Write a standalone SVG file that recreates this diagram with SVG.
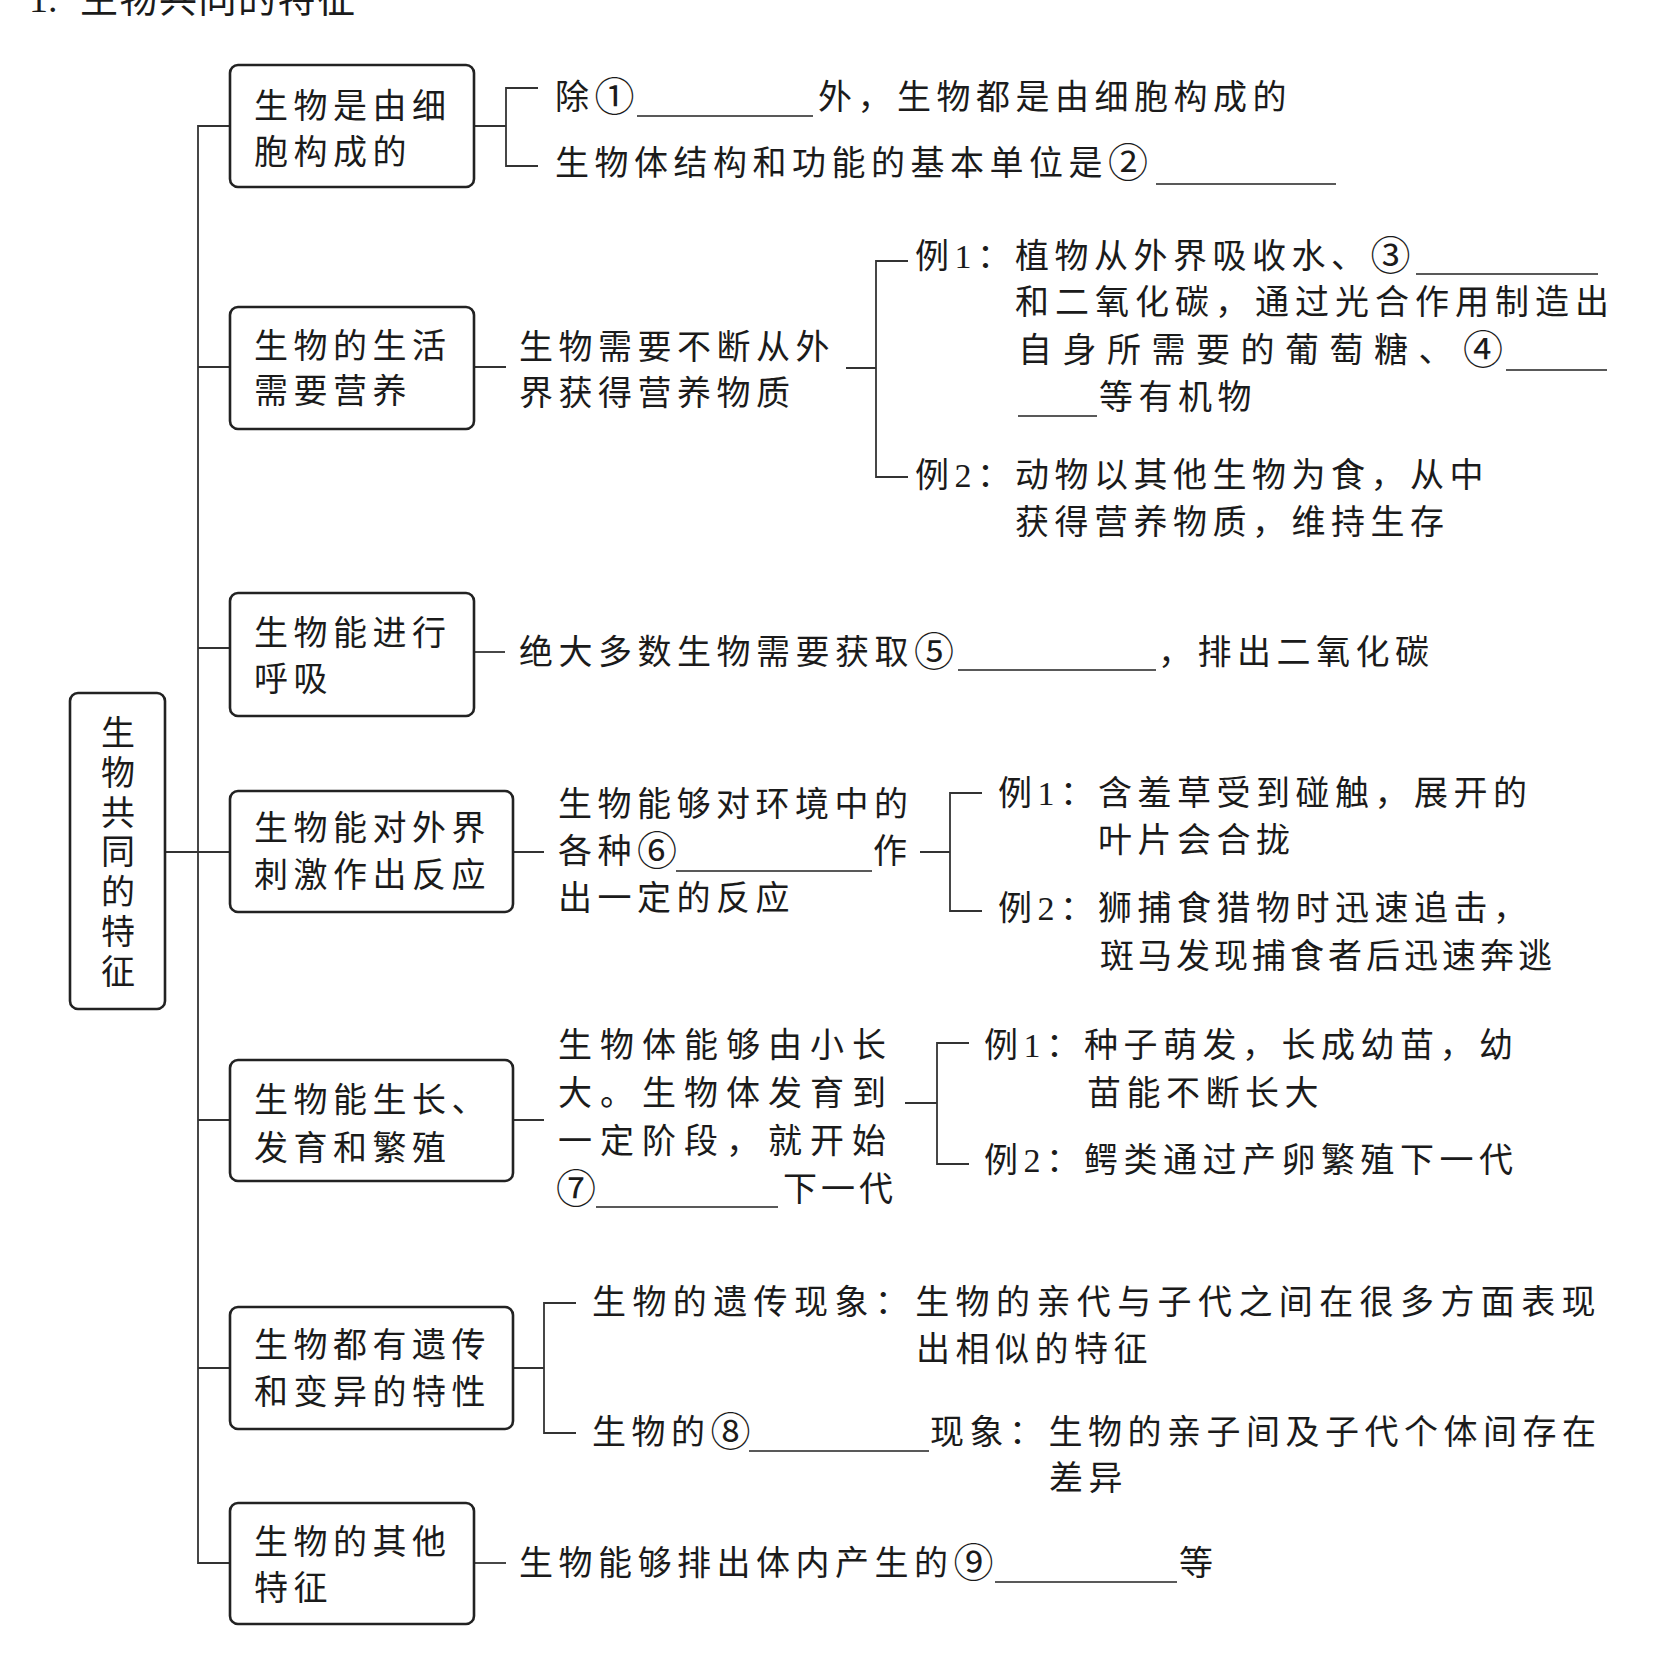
<svg xmlns="http://www.w3.org/2000/svg" width="1678" height="1676" viewBox="0 0 1678 1676">
<style>
.box{fill:#fff;stroke:#222;stroke-width:2.6}
.ln{fill:none;stroke:#333;stroke-width:1.8}
.ul{stroke:#222;stroke-width:1.6}
text{font-family:"Liberation Serif","Noto Sans CJK SC",serif;font-size:34px;fill:#1b1b1b;dominant-baseline:central;letter-spacing:5.5px}
.ttl{font-size:38px;letter-spacing:1.5px}
.c{font-size:40px;letter-spacing:0}
.s8{letter-spacing:6px}
.s84{letter-spacing:6.4px}
.s10{letter-spacing:8px}
.s125{letter-spacing:10.5px}
.s6{letter-spacing:4px}
.vc{text-anchor:middle;letter-spacing:0}
</style>
<rect width="1678" height="1676" fill="#fff"/>
<g id="title">
<text x="29" y="-1" class="ttl" style="letter-spacing:0">1.</text>
<text x="80" y="-1" class="ttl">生物共同的特征</text>
</g>
<g id="connectors">
<path class="ln" d="M230 126 H198 V1563 H230"/>
<path class="ln" d="M165 852 H230"/>
<path class="ln" d="M198 367 H230 M198 648 H230 M198 1120 H230 M198 1368 H230"/>
<path class="ln" d="M474 126 H506 M538 88 H506 V166 H538"/>
<path class="ln" d="M473 367 H506 M846 368 H876 M908 261 H876 V477 H908"/>
<path class="ln" d="M474 652 H505"/>
<path class="ln" d="M513 852 H544 M920 852 H950 M982 793 H950 V911 H982"/>
<path class="ln" d="M513 1120 H544 M905 1103 H937 M969 1043 H937 V1164 H969"/>
<path class="ln" d="M513 1368 H544 M576 1303 H544 V1433 H576"/>
<path class="ln" d="M474 1563 H506"/>
</g>
<g id="root">
<rect class="box" x="70" y="693" width="95" height="316" rx="8"/>
<text class="vc" x="118" y="733">生</text>
<text class="vc" x="118" y="773">物</text>
<text class="vc" x="118" y="813">共</text>
<text class="vc" x="118" y="852">同</text>
<text class="vc" x="118" y="892">的</text>
<text class="vc" x="118" y="932">特</text>
<text class="vc" x="118" y="972">征</text>
</g>
<g id="n1">
<rect class="box" x="230" y="65" width="244" height="122" rx="8"/>
<text x="254" y="106">生物是由细</text>
<text x="254" y="152">胞构成的</text>
</g>
<g id="n1-detail">
<text x="555" y="97">除<tspan class="c">①</tspan></text>
<line class="ul" x1="637" y1="116" x2="813" y2="116"/>
<text x="818" y="97">外，生物都是由细胞构成的</text>
<text x="555" y="163">生物体结构和功能的基本单位是<tspan class="c">②</tspan></text>
<line class="ul" x1="1156" y1="184" x2="1336" y2="184"/>
</g>
<g id="n2">
<rect class="box" x="230" y="307" width="244" height="122" rx="8"/>
<text x="254" y="346">生物的生活</text>
<text x="254" y="391">需要营养</text>
</g>
<g id="n2-detail">
<text x="519" y="347">生物需要不断从外</text>
<text x="519" y="393">界获得营养物质</text>
<text x="915" y="256">例1：</text>
<text x="1015" y="256">植物从外界吸收水、<tspan class="c">③</tspan></text>
<line class="ul" x1="1416" y1="274" x2="1598" y2="274"/>
<text x="1015" y="302" class="s8">和二氧化碳，通过光合作用制造出</text>
<text x="1018" y="350" class="s125">自身所需要的葡萄糖、<tspan class="c">④</tspan></text>
<line class="ul" x1="1506" y1="370" x2="1607" y2="370"/>
<line class="ul" x1="1018" y1="416" x2="1097" y2="416"/>
<text x="1099" y="397">等有机物</text>
<text x="915" y="475">例2：</text>
<text x="1015" y="475">动物以其他生物为食，从中</text>
<text x="1015" y="522">获得营养物质，维持生存</text>
</g>
<g id="n3">
<rect class="box" x="230" y="593" width="244" height="123" rx="8"/>
<text x="254" y="633">生物能进行</text>
<text x="254" y="679">呼吸</text>
</g>
<g id="n3-detail">
<text x="519" y="652">绝大多数生物需要获取<tspan class="c">⑤</tspan></text>
<line class="ul" x1="958" y1="670" x2="1156" y2="670"/>
<text x="1158" y="652">，排出二氧化碳</text>
</g>
<g id="n4">
<rect class="box" x="230" y="791" width="283" height="121" rx="8"/>
<text x="254" y="828">生物能对外界</text>
<text x="254" y="875">刺激作出反应</text>
</g>
<g id="n4-detail">
<text x="558" y="804">生物能够对环境中的</text>
<text x="558" y="851">各种<tspan class="c">⑥</tspan></text>
<line class="ul" x1="676" y1="871" x2="872" y2="871"/>
<text x="873" y="851">作</text>
<text x="558" y="898">出一定的反应</text>
<text x="998" y="793">例1：</text>
<text x="1098" y="793">含羞草受到碰触，展开的</text>
<text x="1098" y="840">叶片会合拢</text>
<text x="998" y="908">例2：</text>
<text x="1098" y="908">狮捕食猎物时迅速追击，</text>
<text x="1100" y="956" class="s6">斑马发现捕食者后迅速奔逃</text>
</g>
<g id="n5">
<rect class="box" x="230" y="1060" width="283" height="121" rx="8"/>
<text x="254" y="1100">生物能生长、</text>
<text x="254" y="1148">发育和繁殖</text>
</g>
<g id="n5-detail">
<text x="558" y="1045" class="s10">生物体能够由小长</text>
<text x="558" y="1093" class="s10">大。生物体发育到</text>
<text x="558" y="1141" class="s10">一定阶段，就开始</text>
<text x="556" y="1189"><tspan class="c">⑦</tspan></text>
<line class="ul" x1="596" y1="1207" x2="778" y2="1207"/>
<text x="783" y="1189" class="s6">下一代</text>
<text x="984" y="1045">例1：</text>
<text x="1084" y="1045">种子萌发，长成幼苗，幼</text>
<text x="1087" y="1093">苗能不断长大</text>
<text x="984" y="1160">例2：</text>
<text x="1084" y="1160">鳄类通过产卵繁殖下一代</text>
</g>
<g id="n6">
<rect class="box" x="230" y="1307" width="283" height="122" rx="8"/>
<text x="254" y="1345">生物都有遗传</text>
<text x="254" y="1392">和变异的特性</text>
</g>
<g id="n6-detail">
<text x="592" y="1302" class="s84">生物的遗传现象：生物的亲代与子代之间在很多方面表现</text>
<text x="916" y="1349">出相似的特征</text>
<text x="592" y="1432">生物的<tspan class="c">⑧</tspan></text>
<line class="ul" x1="749" y1="1451" x2="929" y2="1451"/>
<text x="930" y="1432">现象：生物的亲子间及子代个体间存在</text>
<text x="1049" y="1478">差异</text>
</g>
<g id="n7">
<rect class="box" x="230" y="1503" width="244" height="121" rx="8"/>
<text x="254" y="1542">生物的其他</text>
<text x="254" y="1588">特征</text>
</g>
<g id="n7-detail">
<text x="519" y="1563">生物能够排出体内产生的<tspan class="c">⑨</tspan></text>
<line class="ul" x1="995" y1="1582" x2="1177" y2="1582"/>
<text x="1179" y="1563">等</text>
</g>
</svg>
